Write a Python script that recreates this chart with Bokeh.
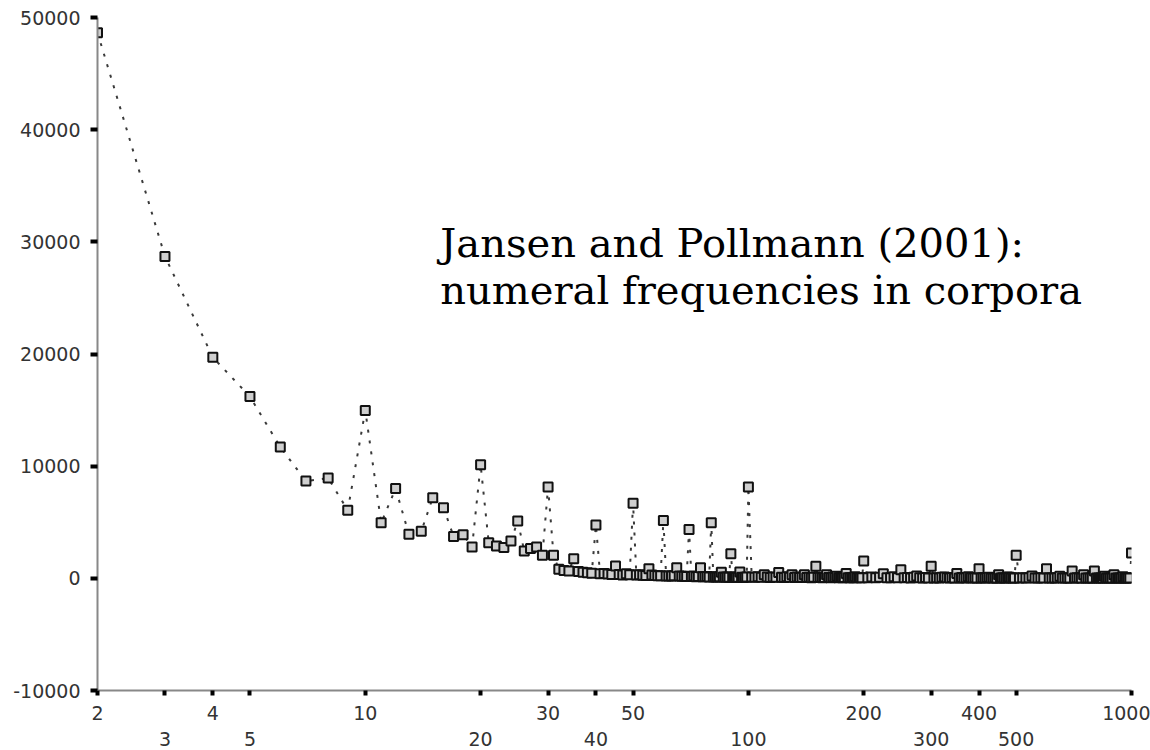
from bokeh.plotting import figure
from bokeh.models import ColumnDataSource, Range1d, FixedTicker, LogAxis, PrintfTickFormatter, Label
from bokeh.embed import file_html
from bokeh.resources import INLINE

# ---- data (numeral n -> corpus frequency) ----
x_low = list(range(2, 101))
y_low = [
    48650, 28700, 19700, 16200, 11700, 8670, 8940, 6060, 14970,          # 2-10
    4950, 8000, 3920, 4190, 7190, 6300, 3740, 3890, 2790, 10130,         # 11-20
    3180, 2880, 2740, 3330, 5110, 2430, 2650, 2790, 2050, 8140,          # 21-30
    2050, 800, 700, 650, 1750, 600, 550, 500, 450, 4750,                 # 31-40
    400, 420, 380, 350, 1100, 350, 300, 400, 330, 6700,                  # 41-50
    300, 320, 280, 260, 860, 300, 250, 230, 220, 5150,                   # 51-60
    200, 210, 200, 230, 950, 200, 180, 190, 170, 4350,                   # 61-70
    160, 200, 150, 160, 950, 150, 140, 160, 130, 4950,                   # 71-80
    130, 120, 110, 150, 550, 120, 100, 130, 100, 2200,                   # 81-90
    100, 110, 90, 100, 560, 90, 80, 100, 120, 8150,                      # 91-100
]
x_mid = list(range(102, 201, 2))
y_mid = [
    120, 90, 140, 100, 330, 110, 80, 130, 90, 510,
    100, 70, 150, 90, 330, 80, 110, 70, 90, 330,
    80, 100, 60, 90, 1070, 70, 90, 60, 80, 330,
    70, 60, 110, 70, 180, 60, 80, 60, 70, 420,
    60, 50, 80, 60, 150, 50, 70, 50, 60, 1540,
]
x_high = list(range(205, 501, 5))
y_high = [
    60, 120, 50, 90, 400, 60, 50, 150, 60, 775,
    50, 80, 40, 100, 200, 60, 40, 80, 40, 1070,
    40, 60, 40, 90, 120, 50, 40, 70, 30, 420,
    40, 70, 30, 50, 150, 60, 30, 50, 30, 860,
    30, 50, 30, 80, 100, 40, 30, 60, 30, 330,
    30, 50, 30, 40, 120, 90, 30, 40, 30, 2050,
]
x_top = list(range(510, 1001, 10))
y_top = [
    30, 50, 30, 60, 200, 30, 40, 50, 30, 860,
    30, 40, 30, 50, 180, 30, 20, 40, 30, 650,
    20, 50, 30, 20, 330, 20, 30, 40, 20, 650,
    20, 30, 20, 40, 180, 20, 20, 30, 20, 330,
    20, 30, 20, 30, 150, 20, 20, 20, 20, 2250,
]

x_ticks_all = [2, 3, 4, 5, 10, 20, 30, 40, 50, 100, 200, 300, 400, 500, 1000]
x_labels_row2 = [3, 5, 20, 40, 100, 300, 500]
y_ticks = [-10000, 0, 10000, 20000, 30000, 40000, 50000]
title_lines = ["Jansen and Pollmann (2001):", "numeral frequencies in corpora"]

xs = x_low + x_mid + x_high + x_top
ys = y_low + y_mid + y_high + y_top
src = ColumnDataSource(data=dict(x=xs, y=ys))

p = figure(frame_width=1034, frame_height=673, x_axis_type="log",
           x_range=Range1d(2, 1000), y_range=Range1d(-10000, 50000),
           output_backend="svg", toolbar_location=None,
           min_border_left=97, min_border_top=17, min_border_right=19, min_border_bottom=58)
p.outline_line_color = None
p.grid.visible = False
p.background_fill_color = "white"
p.border_fill_color = "white"

p.line("x", "y", source=src, line_color="#3a3a3a", line_width=2, line_dash="3 8")
p.scatter("x", "y", source=src, marker="square", size=9, line_color="#111111",
          line_width=2, fill_color="#cfcfcf")

lab_font = "DejaVu Sans"
lab_size = "19px"
for ax in (p.xaxis[0], p.yaxis[0]):
    ax.axis_line_color = "#888888"
    ax.axis_line_width = 2
    ax.major_tick_line_color = "black"
    ax.major_tick_line_width = 4
    ax.major_tick_in = 0
    ax.minor_tick_line_color = None
    ax.major_label_text_font = lab_font
    ax.major_label_text_font_size = lab_size
    ax.major_label_text_color = "#333333"

p.yaxis.ticker = FixedTicker(ticks=y_ticks)
p.yaxis.formatter = PrintfTickFormatter(format="%d")
p.yaxis.major_tick_out = 7
p.yaxis.major_label_standoff = 10

p.xaxis.ticker = FixedTicker(ticks=x_ticks_all)
p.xaxis.formatter = PrintfTickFormatter(format="%d")
p.xaxis.major_label_overrides = {t: "" for t in x_labels_row2}
p.xaxis.major_tick_out = 5
p.xaxis.major_label_standoff = 10

ax2 = LogAxis(ticker=FixedTicker(ticks=x_labels_row2), formatter=PrintfTickFormatter(format="%d"),
              axis_line_color=None, major_tick_line_color=None, minor_tick_line_color=None,
              major_tick_out=0, major_tick_in=0, major_label_standoff=9,
              major_label_text_font=lab_font, major_label_text_font_size=lab_size,
              major_label_text_color="#333333")
p.add_layout(ax2, "below")

p.add_layout(Label(x=15.7, y=29860, text=title_lines[0], text_font="DejaVu Serif",
                   text_font_size="40px", text_color="black", text_baseline="alphabetic"))
p.add_layout(Label(x=15.7, y=25670, text=title_lines[1], text_font="DejaVu Serif",
                   text_font_size="40px", text_color="black", text_baseline="alphabetic"))

open("out.html", "w").write(file_html(p, INLINE))
